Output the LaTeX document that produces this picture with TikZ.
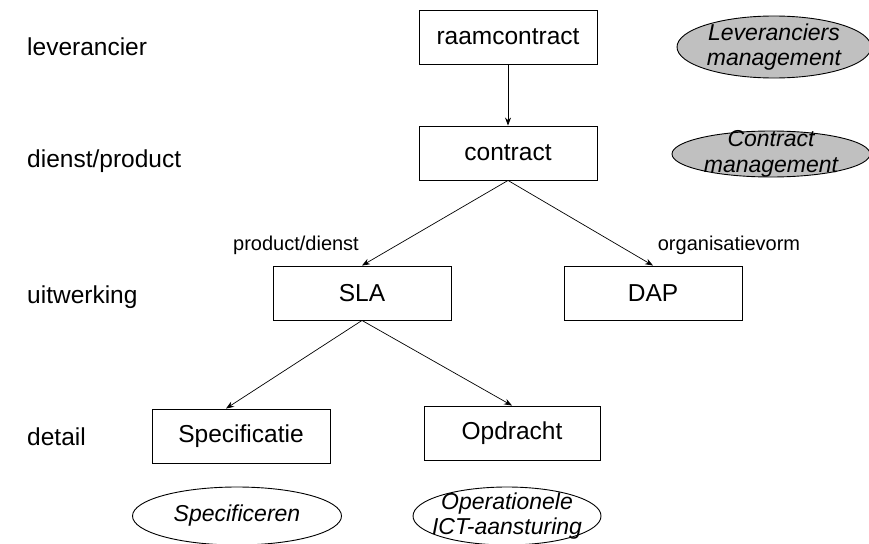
\documentclass[tikz,border=0pt]{standalone}
\usepackage{fontspec}
\setmainfont{Liberation Sans}
\usetikzlibrary{shapes.geometric,arrows.meta}
\definecolor{mgmtgray}{RGB}{192,192,192}
\begin{document}
\begin{tikzpicture}[x=1pt,y=-1pt,
  box/.style={draw,line width=0.9pt,minimum width=178pt,minimum height=54pt,
    inner sep=0pt,font=\fontsize{24.5}{28}\selectfont},
  level/.style={anchor=west,inner sep=0pt,font=\fontsize{24.5}{28}\selectfont},
  edgelabel/.style={inner sep=0pt,font=\fontsize{20}{24}\selectfont},
  oval/.style={draw,line width=0.9pt,ellipse,inner sep=0pt},
  ovaltext/.style={inner sep=0pt,align=center,
    font=\fontsize{23}{25.5}\selectfont\itshape},
  link/.style={line width=0.7pt,-{Stealth[length=8pt,width=6pt]}}]
\useasboundingbox (0,0) rectangle (869,543);
\clip (0,0) rectangle (869,543);

% level captions
\node[level] (l1) at (27,47) {leverancier};
\node[level] (l2) at (27,161) {dienst/product};
\node[level] (l3) at (27,297) {uitwerking};
\node[level] (l4) at (27,437) {detail};

% documents
\node[box] (raam) at (508,37) {raamcontract};
\node[box] (contract) at (508,153) {contract};
\node[box] (sla) at (362,293) {SLA};
\node[box] (dap) at (653,293) {DAP};
\node[box] (spec) at (241,436) {Specificatie};
\node[box,minimum width=176pt] (opdr) at (512,433) {Opdracht};

% connectors
\draw[link] (raam.south) -- (contract.north);
\draw[link] (contract.south) -- (sla.north);
\draw[link] (contract.south) -- (dap.north);
\draw[link] (sla.south) -- ([xshift=-15pt]spec.north);
\draw[link] (sla.south) -- (opdr.north);

\node[edgelabel] (lpd) at (296,245) {product/dienst};
\node[edgelabel] (lov) at (729,245) {organisatievorm};

% management processes
\node[oval,fill=mgmtgray,minimum width=194pt,minimum height=62pt] (lm) at (774,47) {};
\node[ovaltext] at (lm.center) {Leveranciers\\management};
\node[oval,fill=mgmtgray,minimum width=198pt,minimum height=46pt] (cm) at (771,154) {};
\node[ovaltext] at (cm.center) {Contract\\management};
\node[oval,minimum width=209pt,minimum height=58pt] (sp) at (237,516) {};
\node[ovaltext] at (sp.center) {Specificeren};
\node[oval,minimum width=188pt,minimum height=58pt] (op) at (507,516) {};
\node[ovaltext] at (op.center) {Operationele\\ICT-aansturing};
\end{tikzpicture}
\end{document}
